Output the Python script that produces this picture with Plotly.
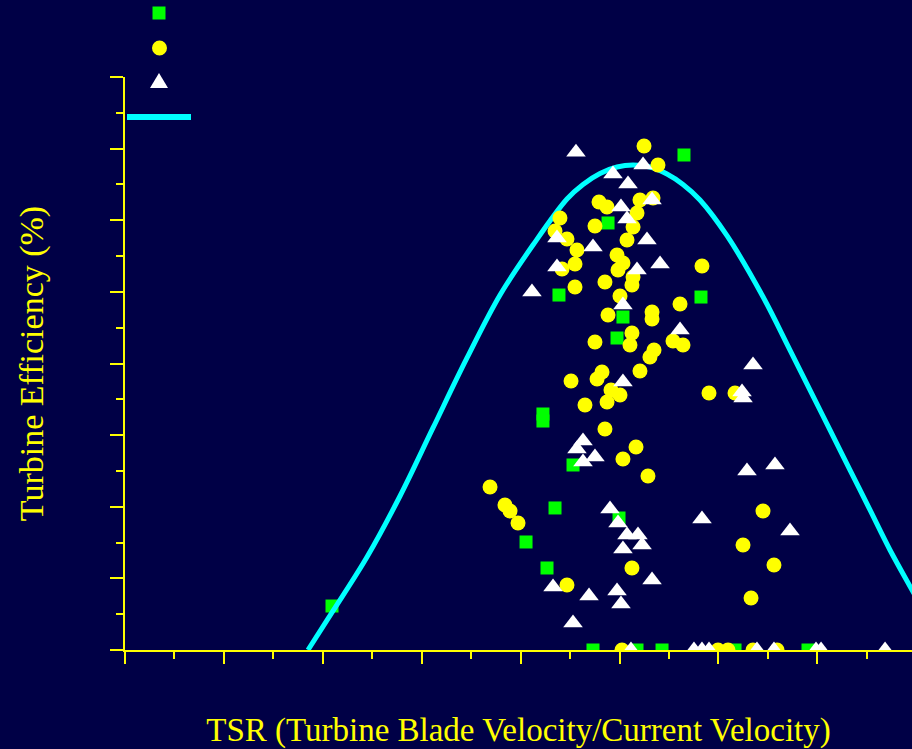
import plotly.graph_objects as go

# ---- data (TSR, efficiency %) ----
green_tsr = [5.652, 4.884, 4.388, 5.824, 5.035, 4.975, 4.226, 4.226, 4.530, 4.348,
             4.995, 4.055, 4.267, 2.093, 4.732, 5.177, 5.430, 6.168, 6.906]
green_eff = [69.11, 59.62, 49.56, 49.28, 46.49, 43.56, 32.95, 31.97, 25.83, 19.83,
             18.43, 15.08, 11.45, 6.14, 0, 0, 0, 0, 0]

yellow_tsr = [5.248, 5.389, 4.793, 4.874, 5.207, 5.339, 5.177, 4.398, 4.348, 4.469,
              4.752, 5.137, 5.076, 4.570, 4.550, 4.419, 4.975, 5.035, 4.985, 5.137,
              5.126, 4.853, 4.550, 5.005, 5.834, 5.612, 4.884, 5.329, 5.329, 5.126,
              5.106, 4.752, 5.541, 5.642, 5.349, 5.308, 5.207, 4.823, 4.773, 4.510,
              4.914, 5.005, 4.874, 4.651, 5.905, 6.168, 4.853, 5.167, 5.035, 5.288,
              3.691, 3.842, 3.893, 3.974, 6.451, 6.249, 6.562, 6.330, 5.126, 4.469,
              5.025, 5.996, 6.097, 6.350, 6.593]
yellow_eff = [70.37, 67.71, 62.55, 61.85, 62.83, 63.11, 61.01, 60.31, 58.50, 57.38,
              59.20, 59.06, 57.24, 55.85, 53.89, 53.19, 55.15, 54.03, 53.05, 52.08,
              50.96, 51.38, 50.68, 49.42, 53.61, 48.31, 46.77, 47.19, 46.21, 44.26,
              42.58, 43.00, 43.14, 42.58, 41.88, 40.91, 38.95, 38.81, 37.84, 37.56,
              36.30, 35.60, 34.63, 34.21, 35.88, 35.88, 30.86, 28.34, 26.67, 24.29,
              22.76, 20.24, 19.41, 17.73, 19.41, 14.66, 11.87, 7.26, 11.45, 9.08,
              0, 0, 0, 0, 0]

white_tsr = [4.560, 5.238, 4.934, 5.086, 5.329, 5.015, 5.076, 4.368, 4.732, 5.278,
             4.368, 5.410, 5.177, 4.115, 5.035, 5.612, 5.035, 6.350, 6.239, 6.249,
             4.631, 4.570, 4.752, 4.631, 6.289, 6.572, 5.834, 6.724, 4.904, 4.985,
             5.076, 5.187, 5.035, 5.228, 5.329, 4.328, 4.692, 4.975, 5.015, 4.530,
             5.116, 5.753, 5.834, 5.905, 6.390, 6.562, 6.987, 7.038, 7.685]
white_eff = [69.49, 67.71, 66.46, 65.06, 62.83, 61.85, 60.17, 57.52, 56.27, 57.24,
             53.47, 53.89, 53.05, 49.98, 48.17, 44.68, 37.42, 39.79, 36.02, 35.18,
             29.18, 28.06, 26.95, 26.25, 24.99, 25.83, 18.29, 16.61, 19.69, 17.73,
             16.06, 16.06, 14.10, 14.66, 9.77, 8.80, 7.54, 8.24, 6.42, 3.77,
             0, 0, 0, 0, 0, 0, 0, 0, 0]

curve_tsr = [1.850, 2.103, 2.447, 2.781, 3.114, 3.458, 3.792, 4.125, 4.469, 4.631,
             4.803, 4.975, 5.136, 5.308, 5.480, 5.642, 5.814, 6.087, 6.451, 6.724,
             6.957, 7.128, 7.331, 7.533, 7.735, 7.958, 8.048]
curve_eff = [0, 5.45, 12.98, 21.50, 31.00, 40.77, 49.56, 56.54, 62.97, 65.00,
             66.53, 67.43, 67.71, 67.43, 66.46, 65.00, 62.83, 57.84, 49.32, 41.88,
             35.46, 30.72, 25.13, 19.55, 13.96, 8.38, 6.15]

x_title = "TSR (Turbine Blade Velocity/Current Velocity)"
y_title = "Turbine Efficiency (%)"

BG = "#000046"
YEL = "#FFFF00"
GRN = "#00FF00"
CYN = "#00FFFF"
WHT = "#FFFFFF"

fig = go.Figure()
fig.add_trace(go.Scatter(x=green_tsr, y=green_eff, mode="markers", name="green",
                         marker=dict(symbol="square", size=13, color=GRN,
                                     line=dict(width=0))))
fig.add_trace(go.Scatter(x=curve_tsr, y=curve_eff, mode="lines", name="fit",
                         line=dict(color=CYN, width=5, shape="spline", smoothing=1.0)))
fig.add_trace(go.Scatter(x=yellow_tsr, y=yellow_eff, mode="markers", name="yellow",
                         marker=dict(symbol="circle", size=15, color=YEL,
                                     line=dict(width=0))))
fig.add_trace(go.Scatter(x=white_tsr, y=white_eff, mode="markers", name="white",
                         marker=dict(symbol="triangle-up", size=17, color=WHT,
                                     line=dict(width=0))))

W, H = 912, 749
L, R, T, B = 125, 0, 77, 99
PW, PH = W - L - R, H - T - B


def px(x):
    return (x - L) / PW


def py(y):
    return (H - B - y) / PH


shapes = [
    dict(type="rect", xref="paper", yref="paper", x0=px(152.5), x1=px(165.5),
         y0=py(19.5), y1=py(6.5), fillcolor=GRN, line=dict(width=0), layer="above"),
    dict(type="circle", xref="paper", yref="paper", x0=px(152), x1=px(167),
         y0=py(55.5), y1=py(40.5), fillcolor=YEL, line=dict(width=0), layer="above"),
    dict(type="path", xref="paper", yref="paper",
         path=f"M {px(150)} {py(88)} L {px(168)} {py(88)} L {px(159)} {py(73)} Z",
         fillcolor=WHT, line=dict(width=0), layer="above"),
    dict(type="line", xref="paper", yref="paper", x0=px(127), x1=px(191),
         y0=py(117), y1=py(117), line=dict(color=CYN, width=6), layer="above"),
]

fig.update_layout(
    width=W, height=H,
    margin=dict(l=L, r=R, t=T, b=B, pad=0),
    paper_bgcolor=BG, plot_bgcolor=BG,
    showlegend=False,
    shapes=shapes,
    xaxis=dict(range=[0, PW / 98.9], showgrid=False, zeroline=False,
               showline=True, linecolor=YEL, linewidth=2,
               ticks="outside", ticklen=12, tickwidth=2, tickcolor=YEL,
               dtick=1, tick0=0, showticklabels=False,
               minor=dict(ticks="outside", ticklen=7, tickwidth=2, tickcolor=YEL, dtick=0.5),
               title=dict(text=x_title, standoff=55,
                          font=dict(family="Liberation Serif", size=33, color=YEL))),
    yaxis=dict(range=[0, 80], showgrid=False, zeroline=False,
               showline=True, linecolor=YEL, linewidth=2,
               ticks="outside", ticklen=13, tickwidth=2, tickcolor=YEL,
               dtick=10, tick0=0, showticklabels=False,
               minor=dict(ticks="outside", ticklen=7, tickwidth=2, tickcolor=YEL, dtick=5),
               title=dict(text=y_title, standoff=56,
                          font=dict(family="Liberation Serif", size=34, color=YEL))),
)

fig.write_html(
    "out.html",
    config={"displayModeBar": False},
    post_script="document.body.style.margin='0';document.body.style.overflow='hidden';"
                "document.body.style.background='" + BG + "';",
)
